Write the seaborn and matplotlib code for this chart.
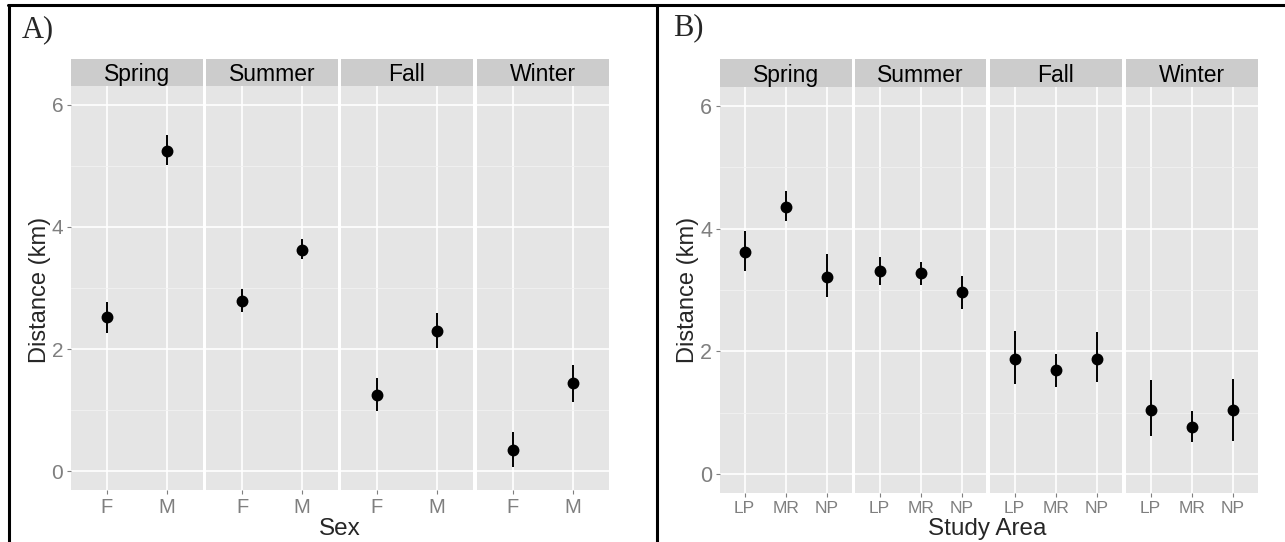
import pandas as pd
import matplotlib.pyplot as plt
import seaborn as sns
from matplotlib.lines import Line2D

# categories
seasons = ["Spring", "Summer", "Fall", "Winter"]
sexes = ["F", "M"]
areas = ["LP", "MR", "NP"]

# panel A: distance by sex, mean and interval per season
sex_mean = [[2.52, 5.25], [2.79, 3.63], [1.25, 2.30], [0.35, 1.44]]
sex_low = [[2.27, 5.01], [2.61, 3.47], [0.98, 2.01], [0.07, 1.13]]
sex_high = [[2.77, 5.50], [2.98, 3.81], [1.52, 2.59], [0.64, 1.74]]

# panel B: distance by study area
area_mean = [[3.62, 4.35, 3.21], [3.31, 3.27, 2.96], [1.88, 1.69, 1.88], [1.05, 0.76, 1.04]]
area_low = [[3.31, 4.12, 2.88], [3.08, 3.08, 2.69], [1.46, 1.42, 1.50], [0.62, 0.52, 0.54]]
area_high = [[3.97, 4.61, 3.59], [3.54, 3.46, 3.23], [2.33, 1.96, 2.31], [1.53, 1.02, 1.55]]

sns.set_theme(style="darkgrid", rc={"axes.facecolor": "#E5E5E5", "grid.color": "white"})
plt.rcParams['font.family'] = ['Liberation Sans', 'DejaVu Sans']

W, H = 1285, 542
fig = plt.figure(figsize=(12.85, 5.42), dpi=100)
fig.patch.set_facecolor("white")


def box(x0, y0, x1, y1):
    return [x0 / W, 1 - y1 / H, (x1 - x0) / W, (y1 - y0) / H]


def panel(lefts, width, top, bottom, cats, mean, low, high, xtick_size, ytick_size):
    n = len(cats)
    for i, season in enumerate(seasons):
        x0 = lefts[i]
        ax = fig.add_axes(box(x0, top, x0 + width, bottom))
        df = pd.DataFrame({"cat": cats, "dist": mean[i]})
        ax.vlines(range(n), low[i], high[i], color="black", lw=1.4, zorder=3)
        sns.pointplot(data=df, x="cat", y="dist", order=cats, color="black",
                      linestyle="none", errorbar=None, markersize=6.5, ax=ax)
        ax.set_xlim(-0.6, n - 0.4)
        ax.set_ylim(-0.31, 6.31)
        ax.set_yticks([0, 2, 4, 6])
        ax.set_yticks([1, 3, 5], minor=True)
        ax.grid(True, which="major", axis="both", color="white", lw=1.2)
        ax.grid(True, which="minor", axis="y", color="#F2F2F2", lw=0.6)
        ax.set_axisbelow(True)
        for s in ax.spines.values():
            s.set_visible(False)
        ax.set_xlabel("")
        ax.set_ylabel("")
        ax.tick_params(axis="x", which="major", bottom=True, length=3, width=0.8,
                       color="#7F7F7F", labelcolor="#7F7F7F", labelsize=xtick_size, pad=2.5)
        ax.tick_params(axis="y", which="major", left=(i == 0), labelleft=(i == 0), length=3,
                       width=0.8, color="#7F7F7F", labelcolor="#7F7F7F", labelsize=ytick_size, pad=2.5)
        ax.tick_params(axis="y", which="minor", left=False)

        sax = fig.add_axes(box(x0, 59, x0 + width, top))
        sax.set_facecolor("#CCCCCC")
        sax.set_xticks([])
        sax.set_yticks([])
        for s in sax.spines.values():
            s.set_visible(False)
        sax.text(0.5, 0.17, season, ha="center", va="baseline", fontsize=16.5, color="black",
                 transform=sax.transAxes)


panel([71, 206, 341, 476.5], 132, 86, 490, sexes, sex_mean, sex_low, sex_high, 14.5, 15)
panel([720, 855, 990, 1126], 131.5, 87, 493, areas, area_mean, area_low, area_high, 12.5, 15.5)

# axis titles
fig.text(40 / W, 1 - 290 / H, "Distance (km)", rotation=90, ha="center", va="center", fontsize=17)
fig.text(688 / W, 1 - 290 / H, "Distance (km)", rotation=90, ha="center", va="center", fontsize=17)
fig.text(340 / W, 1 - 535 / H, "Sex", ha="center", va="baseline", fontsize=17.5)
fig.text(987 / W, 1 - 535 / H, "Study Area", ha="center", va="baseline", fontsize=17.5)

# panel letters
fig.text(22 / W, 1 - 37 / H, "A)", ha="left", va="baseline", fontsize=22, family="Liberation Serif")
fig.text(673 / W, 1 - 35 / H, "B)", ha="left", va="baseline", fontsize=22, family="Liberation Serif")

# frame lines
fig.add_artist(Line2D([8 / W, 1], [1 - 5 / H, 1 - 5 / H], color="black", lw=2.2, transform=fig.transFigure))
fig.add_artist(Line2D([9 / W, 9 / W], [0, 1 - 5 / H], color="black", lw=2.2, transform=fig.transFigure))
fig.add_artist(Line2D([657 / W, 657 / W], [0, 1 - 5 / H], color="black", lw=2.2, transform=fig.transFigure))

plt.savefig("out.png", dpi=100)
plt.close()
